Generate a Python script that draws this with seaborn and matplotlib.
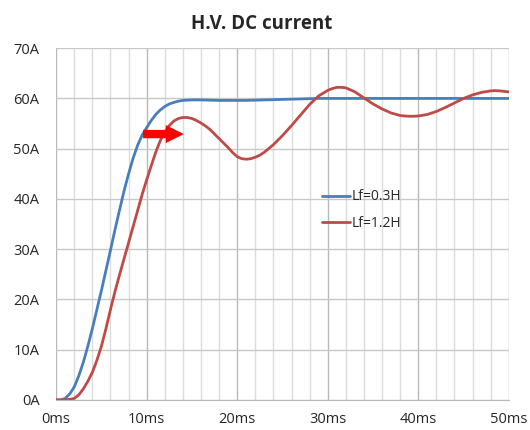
# H.V. DC current step response for two filter inductances

import numpy as np
import pandas as pd
import seaborn as sns
import matplotlib.pyplot as plt
from matplotlib.ticker import MultipleLocator, FuncFormatter

# Data (time in ms, current in A)
# finer steps where the curves bend hard
time_03 = [0, 0.5, 1, 1.5, 2, 2.5, 3, 3.5, 4, 4.5, 5, 5.5, 6, 6.5, 7, 7.5,
           8, 8.5, 9, 9.5, 10, 10.5, 11, 11.5, 12, 12.5, 13, 13.5, 14, 15,
           16, 17, 18, 19, 20, 21, 22, 23, 24, 25, 26, 27, 28, 29, 30,
           32, 34, 36, 38, 40, 42, 44, 46, 48, 50]
lf_03 = [0, 0, 0.3, 1.2, 2.6, 4.8, 7.5, 10.7, 14.2, 18, 21.8, 25.8, 29.8, 33.9, 37.8, 41.6,
         45, 48.1, 50.7, 52.7, 54.2, 55.6, 56.8, 57.7, 58.4, 58.9, 59.2, 59.45, 59.6, 59.7,
         59.7, 59.65, 59.6, 59.6, 59.6, 59.6, 59.65, 59.7, 59.75, 59.8, 59.85, 59.9, 59.95, 60, 60,
         60, 60, 60, 60, 60, 60, 60, 60, 60, 60]

time_12 = [0, 0.5, 1, 1.5, 2, 2.5, 3, 3.5, 4, 4.5, 5, 5.5, 6, 6.5, 7, 7.5,
           8, 8.5, 9, 9.5, 10, 10.5, 11, 11.5, 12, 12.5, 13, 13.5, 14, 14.5,
           15, 15.5, 16, 16.5, 17, 17.5, 18, 18.5, 19, 19.5, 20, 20.5, 21, 21.5, 22, 22.5, 23,
           24, 25, 26, 27, 28, 29, 30, 30.5, 31, 31.5, 32, 33, 34, 35, 36, 37,
           38, 38.5, 39, 39.5, 40, 41, 42, 43, 44, 45, 46, 47, 48, 48.5, 49, 50]
lf_12 = [0, 0, 0, 0.1, 0.3, 1.0, 2.2, 3.7, 5.5, 7.9, 10.7, 14.2, 18, 21.6, 24.9, 28.1,
         31.3, 34.5, 37.7, 40.9, 43.8, 46.6, 49.3, 51.6, 53.3, 54.6, 55.5, 56.0, 56.2, 56.2,
         56.0, 55.6, 55.1, 54.5, 53.8, 52.9, 52.0, 51.1, 50.2, 49.2, 48.4, 48.0, 47.9, 48.0, 48.3, 48.7, 49.3,
         50.8, 52.6, 54.6, 56.7, 58.8, 60.5, 61.6, 61.95, 62.2, 62.2, 62.1, 61.3, 60.1, 58.9, 57.9, 57.1,
         56.6, 56.5, 56.45, 56.45, 56.5, 56.8, 57.4, 58.2, 59.1, 60, 60.7, 61.2, 61.5, 61.55, 61.5, 61.3]

series_names = ["Lf=0.3H", "Lf=1.2H"]
colors = ["#4A7EBB", "#BE4B48"]

df = pd.DataFrame({
    "t": time_03 + time_12,
    "I": lf_03 + lf_12,
    "series": [series_names[0]] * len(time_03) + [series_names[1]] * len(time_12),
})

sns.set_style("white")
plt.rcParams['font.family'] = ['Open Sans', 'DejaVu Sans']

fig = plt.figure(figsize=(5.3, 4.3), dpi=100)
ax = fig.add_axes([0.106, 0.070, 0.854, 0.818])

sns.lineplot(data=df, x="t", y="I", hue="series", palette=colors,
             linewidth=2, ax=ax, legend=True, sort=True)

ax.set_xlim(0, 50)
ax.set_ylim(0, 70)

# grid like the excel chart
ax.xaxis.set_major_locator(MultipleLocator(10))
ax.xaxis.set_minor_locator(MultipleLocator(2))
ax.yaxis.set_major_locator(MultipleLocator(10))
ax.grid(which="major", axis="y", color="#c8c8c8", linewidth=1)
ax.grid(which="major", axis="x", color="#b8b8b8", linewidth=1)
ax.grid(which="minor", axis="x", color="#dcdcdc", linewidth=1)
ax.set_axisbelow(True)

ax.xaxis.set_major_formatter(FuncFormatter(lambda v, p: f"{v:.0f}ms"))
ax.yaxis.set_major_formatter(FuncFormatter(lambda v, p: f"{v:.0f}A"))
ax.tick_params(axis="x", which="major", length=4, color="#b8b8b8",
               labelsize=10.5, pad=5)
ax.tick_params(axis="x", which="minor", length=0)
ax.tick_params(axis="y", length=0, labelsize=10.5, pad=12)

for side in ["top", "left", "right"]:
    ax.spines[side].set_visible(False)
ax.spines["bottom"].set_color("#b8b8b8")

ax.set_xlabel("")
ax.set_ylabel("")
fig.text(0.494, 0.945, "H.V. DC current", fontsize=13.5, fontweight="bold",
         ha="center", va="center")

leg = ax.legend(loc="center left", bbox_to_anchor=(0.56, 0.54),
                frameon=False, fontsize=10, handlelength=2.0,
                handletextpad=0.1, labelspacing=0.8)

# red arrow pointing at the first overshoot
ax.annotate("", xy=(14.1, 52.9), xytext=(9.6, 52.9),
            arrowprops=dict(arrowstyle="simple,head_length=1.3,head_width=1.3,tail_width=0.6",
                            color="red", lw=0, shrinkA=0, shrinkB=0))

fig.savefig("out.png", dpi=100)
